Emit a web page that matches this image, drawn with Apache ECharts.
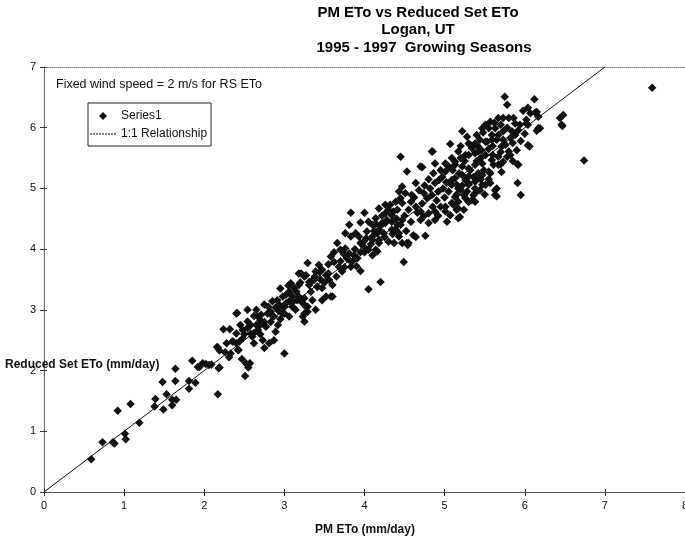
<!DOCTYPE html>
<html><head><meta charset="utf-8">
<script src="https://cdn.jsdelivr.net/npm/echarts@6/dist/echarts.min.js"></script>
<style>html,body{margin:0;padding:0;background:#fff}#c{width:685px;height:536px}</style>
</head><body><div id="c"></div>
<script>
// PM ETo (x) and Reduced Set ETo (y), mm/day
const pmEto = [
0.59,0.73,0.86,0.88,1.01,1.02,0.92,1.08,1.19,1.38,1.39,1.49,1.48,1.53,1.60,1.60,1.65,1.64,1.64,1.81,1.81,1.89,1.92,1.85,1.94,1.98,2.02,2.06,2.09,
2.17,2.51,2.19,2.17,2.19,2.16,2.18,2.24,2.32,2.35,2.40,2.33,2.31,2.42,2.40,2.47,2.52,2.57,2.55,2.43,2.36,2.44,2.48,2.40,2.48,2.54,2.58,2.60,2.67,2.69,2.54,2.58,2.73,2.75,2.81,2.87,2.89,3.00,2.41,2.54,2.65,2.67,2.71,2.75,2.79,2.83,2.87,2.85,2.91,2.94,2.89,2.98,3.02,3.06,3.10,3.10,3.00,3.06,3.14,3.23,3.25,3.18,3.12,3.08,3.21,3.27,3.31,3.37,3.41,3.16,3.25,3.27,3.29,
2.62,2.70,2.77,2.83,2.95,2.93,2.98,2.26,2.28,2.62,2.92,2.70,
4.05,4.20,3.95,4.49,3.83,4.00,3.81,3.95,4.05,4.14,4.18,4.26,4.32,4.41,4.47,4.26,4.34,4.39,4.43,4.30,4.37,4.47,4.53,3.76,3.83,3.89,3.93,3.99,4.03,4.10,4.16,4.18,3.66,3.70,3.76,3.81,3.87,3.91,3.99,4.05,4.10,4.16,3.58,3.62,3.68,3.72,3.83,3.81,3.29,3.43,3.47,3.39,3.52,3.56,3.60,3.18,3.25,3.31,3.35,3.41,3.47,3.52,3.58,3.06,3.18,3.23,3.29,3.35,3.39,3.25,3.02,2.98,3.47,3.60,
4.54,4.64,4.76,5.03,5.17,4.85,
4.61,4.55,4.45,4.84,5.07,4.70,4.53,4.64,4.47,4.43,4.51,4.59,4.45,4.39,4.68,4.74,4.78,4.84,4.82,4.88,4.93,4.97,4.86,4.95,5.01,5.05,4.88,5.01,5.13,5.20,5.30,5.38,5.46,5.32,5.42,5.53,5.09,5.15,5.20,5.26,5.30,5.36,5.38,5.42,5.49,5.57,5.61,5.13,5.24,5.30,5.34,5.38,5.44,5.51,5.63,4.26,4.30,4.34,4.28,4.22,4.14,4.10,4.18,4.24,4.34,4.41,4.47,4.43,4.18,4.14,4.10,4.64,4.70,4.74,4.80,4.88,4.95,5.01,5.07,4.80,4.88,5.01,5.09,5.17,5.24,
5.75,5.78,6.12,5.98,6.04,6.07,6.15,6.17,6.44,6.48,6.46,6.17,6.15,6.04,5.91,5.91,5.95,5.65,5.63,5.57,5.71,5.59,5.67,5.78,5.80,5.90,5.71,5.73,5.82,5.84,5.92,5.94,6.02,5.88,5.86,5.80,5.73,5.67,5.57,5.51,5.47,5.55,5.63,5.73,5.67,5.59,5.59,5.51,5.44,5.38,5.22,5.30,5.34,5.42,5.51,5.47,5.38,5.30,5.22,5.13,5.09,5.17,5.26,5.55,5.47,5.38,5.30,5.22,5.13,5.09,5.17,5.30,5.38,5.47,5.36,5.26,5.17,5.30,5.38,5.11,5.15,5.67,5.73,5.82,
7.59,6.13,6.47,6.19,6.02,6.04,6.06,6.74,5.92,4.72,5.19,5.65,
3.45,3.50,3.55,3.65,3.70,3.75,3.78,3.85,3.88,3.95,4.00,4.02,4.08,4.12,4.20,4.25,4.35,4.40,4.50,4.55,4.58,4.62,4.66,4.72,4.75,4.80,4.90,4.92,4.98,5.02,5.05,5.10,5.18,5.25,5.32,5.40,5.45,5.55,5.60,5.65,5.70,5.76,5.85,5.88,5.62,5.70,5.78,3.05,3.15,3.20,3.33,3.38,3.44,2.95,3.00,3.10,3.20,2.80,2.75,2.85,2.65,2.62,2.50,2.45,3.55,3.62,3.74,3.90,3.95,4.22,4.36,4.45,4.52,4.58,4.70,4.85,4.92,5.00,5.15,5.22,5.28,5.45,5.50,5.55,5.60,5.70,5.85,5.95,6.00,5.40,5.48,5.20,5.28
];
const rsEto = [
0.54,0.82,0.82,0.80,0.96,0.87,1.34,1.45,1.14,1.41,1.53,1.36,1.81,1.61,1.52,1.43,1.52,1.83,2.03,1.70,1.83,1.80,2.06,2.16,2.06,2.12,2.11,2.09,2.10,
1.61,1.91,2.05,2.38,2.33,2.39,2.04,2.68,2.68,2.48,2.45,2.28,2.22,2.34,2.94,2.19,2.12,2.12,2.05,2.34,2.48,2.48,2.53,2.61,2.67,2.70,2.61,2.56,2.67,2.75,2.81,2.75,2.50,2.37,2.45,2.50,2.64,2.28,2.95,3.00,3.00,2.89,2.92,3.09,2.94,2.97,2.89,3.14,3.16,3.08,3.04,3.22,3.25,3.14,3.22,3.05,2.94,2.89,3.00,2.89,2.81,3.41,3.36,3.44,3.60,3.57,3.41,3.49,3.38,3.16,3.19,3.05,2.97,
2.62,2.60,2.72,2.80,2.85,2.98,3.05,2.30,2.45,2.45,2.75,2.83,
3.34,3.46,3.64,3.79,4.60,4.60,4.40,4.44,4.45,4.42,4.67,4.59,4.73,4.65,4.76,4.43,4.45,4.32,4.26,4.12,4.10,4.10,4.10,4.26,4.21,4.26,4.21,4.12,4.29,4.21,4.26,4.15,4.10,3.99,4.01,3.93,3.90,3.85,4.04,3.99,3.90,3.96,3.88,3.79,3.71,3.63,3.71,3.82,3.77,3.74,3.66,3.63,3.57,3.49,3.41,3.60,3.55,3.46,3.49,3.38,3.36,3.22,3.22,3.30,3.22,3.11,3.05,3.16,3.00,2.94,3.11,2.94,3.16,3.22,
4.07,4.20,4.22,4.45,4.51,5.61,
4.23,4.10,5.52,5.61,5.73,5.36,5.28,5.09,5.03,4.95,4.92,4.89,4.84,4.78,4.97,4.92,4.84,4.89,5.00,5.09,5.14,5.19,5.25,5.30,5.28,5.36,5.41,5.41,5.44,5.50,5.55,5.58,5.63,5.72,5.69,5.77,5.14,5.06,4.98,5.14,5.09,5.19,5.11,5.25,5.30,5.25,5.39,4.86,4.89,4.78,4.81,4.92,4.97,5.06,4.97,4.73,4.65,4.56,4.48,4.43,4.51,4.40,4.32,4.26,4.32,4.40,4.48,4.21,4.10,3.99,4.15,4.70,4.62,4.54,4.59,4.62,4.70,4.62,4.56,4.43,4.48,4.70,4.76,4.67,4.65,
6.51,6.38,6.47,6.28,6.33,6.24,6.26,6.18,6.16,6.21,6.05,5.99,5.95,5.71,5.40,5.09,4.89,5.00,4.89,5.09,5.27,5.47,5.52,5.52,5.61,5.63,5.69,5.80,5.83,5.94,5.96,6.05,6.07,6.07,6.16,6.16,6.16,6.16,6.10,6.05,5.99,5.99,5.99,5.94,5.88,5.88,5.80,5.77,5.80,5.74,5.94,5.74,5.66,5.61,5.55,5.41,5.39,5.33,5.36,5.39,5.50,5.61,5.55,5.28,5.22,5.17,5.20,5.22,5.17,5.06,5.00,5.06,5.00,5.06,4.89,4.84,4.78,4.78,4.78,4.73,4.65,5.39,5.44,5.55,
6.66,6.25,6.03,5.99,6.13,6.05,5.69,5.46,5.39,5.35,4.53,4.87,
3.50,3.45,3.60,3.55,3.80,3.70,3.85,3.80,4.00,4.10,3.95,4.18,4.08,4.30,4.38,4.20,4.25,4.50,4.55,4.65,4.78,4.85,4.60,4.75,5.05,5.15,4.80,4.95,5.00,5.10,4.95,5.30,5.25,5.45,5.30,5.45,5.50,5.65,5.70,5.80,5.60,5.72,5.75,5.88,6.08,6.05,6.00,3.40,3.30,3.45,3.30,3.55,3.62,3.35,3.05,3.12,3.15,3.05,2.80,2.90,2.75,2.90,2.60,2.75,3.75,3.95,3.92,3.72,3.95,4.55,4.62,4.40,4.30,4.45,4.48,4.70,4.55,4.85,4.90,5.05,4.95,5.15,4.90,5.15,5.55,5.40,5.45,5.78,5.90,5.88,5.92,5.70,5.85
];
const oneToOneX = [0, 7];
const oneToOneY = [0, 7];
const xTicks = [0,1,2,3,4,5,6,7,8];
const yTicks = [0,1,2,3,4,5,6,7];
const titleLines = ['PM ETo vs Reduced Set ETo', 'Logan, UT', '1995 - 1997  Growing Seasons'];

const scatterData = pmEto.map((x, i) => [x, rsEto[i]]);
const lineData = oneToOneX.map((x, i) => [x, oneToOneY[i]]);
const FONT = '"Liberation Sans", Arial, sans-serif';
const DIAMOND = 'path://M0,-1L1,0L0,1L-1,0Z';
const DOTTED = 'path://M0,0h2v1h-2Z M3,0h2v1h-2Z M6,0h2v1h-2Z M9,0h2v1h-2Z M12,0h2v1h-2Z M15,0h2v1h-2Z M18,0h2v1h-2Z M21,0h2v1h-2Z M24,0h2v1h-2Z';
const xMin = xTicks[0], xMax = xTicks[xTicks.length-1];
const yMin = yTicks[0], yMax = yTicks[yTicks.length-1];

const chart = echarts.init(document.getElementById('c'), null, {renderer: 'canvas'});
chart.setOption({
  animation: false,
  backgroundColor: '#fff',
  grid: {left: 44, right: 0, top: 67, bottom: 44, containLabel: false, outerBoundsMode: 'none'},
  xAxis: [{
    type: 'value', position: 'bottom', min: xMin, max: xMax, interval: 1,
    axisLine: {show: true, onZero: false, lineStyle: {color: '#555', width: 1}},
    axisTick: {show: true, length: 4, lineStyle: {color: '#333'}},
    axisLabel: {color: '#111', fontFamily: FONT, fontSize: 11, margin: 8},
    splitLine: {show: false}
  }, {
    type: 'value', position: 'top', min: xMin, max: xMax, interval: 1,
    axisLine: {show: true, onZero: false, lineStyle: {color: '#777', width: 1, type: 'dotted'}},
    axisTick: {show: false}, axisLabel: {show: false}, splitLine: {show: false}
  }, {
    type: 'value', position: 'bottom', min: xMin, max: xMax, interval: 1,
    axisLine: {show: false, onZero: false},
    axisTick: {show: true, inside: true, length: 3, lineStyle: {color: '#333'}},
    axisLabel: {show: false}, splitLine: {show: false}
  }],
  yAxis: [{
    type: 'value', position: 'left', min: yMin, max: yMax, interval: 1,
    axisLine: {show: true, onZero: false, lineStyle: {color: '#666', width: 1}},
    axisTick: {show: true, length: 4, lineStyle: {color: '#333'}},
    axisLabel: {color: '#111', fontFamily: FONT, fontSize: 11, margin: 8},
    splitLine: {show: false}
  }, {
    type: 'value', position: 'left', min: yMin, max: yMax, interval: 1,
    axisLine: {show: false, onZero: false},
    axisTick: {show: true, inside: true, length: 3, lineStyle: {color: '#333'}},
    axisLabel: {show: false}, splitLine: {show: false}
  }],
  legend: {
    orient: 'vertical', left: 88, top: 103,
    padding: [7, 4, 6, 2], itemGap: 6, itemWidth: 26, itemHeight: 8,
    symbolKeepAspect: true,
    borderColor: '#222', borderWidth: 1, backgroundColor: '#fff',
    textStyle: {fontFamily: FONT, fontSize: 12, color: '#111'},
    data: [
      {name: 'Series1', icon: DIAMOND},
      {name: '1:1 Relationship', icon: DOTTED}
    ]
  },
  series: [{
    name: 'Series1', type: 'scatter', data: scatterData,
    symbol: 'diamond', symbolSize: 8.5,
    itemStyle: {color: '#111', opacity: 1}
  }, {
    name: '1:1 Relationship', type: 'line', data: lineData,
    symbol: 'none', itemStyle: {color: '#111'},
    lineStyle: {color: '#111', width: 1}, z: 3
  }],
  graphic: [
    {type: 'text', x: 418, y: 5, style: {text: titleLines[0], font: 'bold 15px ' + FONT, fill: '#000', textAlign: 'center'}},
    {type: 'text', x: 418, y: 22, style: {text: titleLines[1], font: 'bold 15px ' + FONT, fill: '#000', textAlign: 'center'}},
    {type: 'text', x: 424, y: 40, style: {text: titleLines[2], font: 'bold 15px ' + FONT, fill: '#000', textAlign: 'center'}},
    {type: 'text', x: 56, y: 78, style: {text: 'Fixed wind speed = 2 m/s for RS ETo', font: '12.5px ' + FONT, fill: '#111'}},
    {type: 'text', x: 5, y: 359, z: 10, style: {text: 'Reduced Set ETo (mm/day)', font: 'bold 12px ' + FONT, fill: '#111'}},
    {type: 'text', x: 365, y: 524, style: {text: 'PM ETo (mm/day)', font: 'bold 12px ' + FONT, fill: '#111', textAlign: 'center'}}
  ]
});
</script></body></html>
